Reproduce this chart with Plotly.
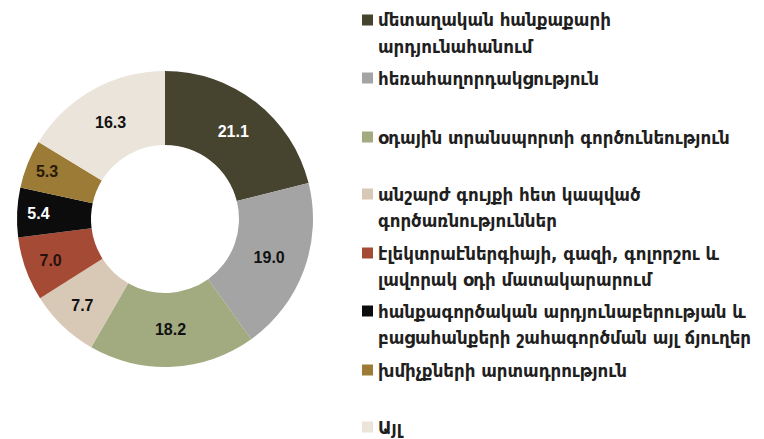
import plotly.graph_objects as go

labels = [
    "մետաղական հանքաքարի<br>արդյունահանում",
    "հեռահաղորդակցություն",
    "օդային տրանսպորտի գործունեություն",
    "անշարժ գույքի հետ կապված<br>գործառնություններ",
    "էլեկտրաէներգիայի, գազի, գոլորշու և<br>լավորակ օդի մատակարարում",
    "հանքագործական արդյունաբերության և<br>բացահանքերի շահագործման այլ ճյուղեր",
    "խմիչքների արտադրություն",
    "Այլ",
]
values = [21.1, 19.0, 18.2, 7.7, 7.0, 5.4, 5.3, 16.3]
colors = ["#46432f", "#a4a4a4", "#a2ab80", "#d8c9b6", "#a54a35", "#0c0c0c", "#9b7b36", "#ebe4db"]
text_colors = ["#ffffff", "#111111", "#111111", "#111111", "#2a120c", "#ffffff", "#2a1a08", "#111111"]

W, H = 764, 439

fig = go.Figure(go.Pie(
    labels=labels,
    values=values,
    hole=0.5,
    sort=False,
    direction="clockwise",
    rotation=0,
    marker=dict(colors=colors, line=dict(width=0)),
    texttemplate="%{value:.1f}",
    textposition="inside",
    insidetextorientation="horizontal",
    textfont=dict(family="Liberation Sans", size=16, color=text_colors, weight="bold"),
    domain=dict(x=[(165 - 148) / W, (165 + 148) / W], y=[(H - 219 - 148) / H, (H - 219 + 148) / H]),
    showlegend=False,
))

# custom legend (text + colour squares) laid out to match the reference
item_y = [20, 78, 137, 194, 253, 311, 370, 427]
line_gap = 26
annotations = []
shapes = []
for lab, col, yc in zip(labels, colors, item_y):
    for k, line in enumerate(lab.split("<br>")):
        annotations.append(dict(
            x=376 / W, y=1 - (yc + k * line_gap) / H, xref="paper", yref="paper",
            xanchor="left", yanchor="middle", text=line, showarrow=False,
            font=dict(family="DejaVu Sans Condensed", size=18.5, color="#1f1f1f", weight="bold"),
        ))
    shapes.append(dict(
        type="rect", xref="paper", yref="paper",
        x0=362 / W, x1=373 / W, y0=1 - (yc + 5.5) / H, y1=1 - (yc - 5.5) / H,
        fillcolor=col, line=dict(width=0),
    ))

fig.update_layout(
    width=W, height=H,
    margin=dict(l=0, r=0, t=0, b=0),
    paper_bgcolor="white",
    plot_bgcolor="white",
    annotations=annotations,
    shapes=shapes,
)

fig.write_html("out.html", config={"displayModeBar": False},
               post_script="document.body.style.margin='0';")
